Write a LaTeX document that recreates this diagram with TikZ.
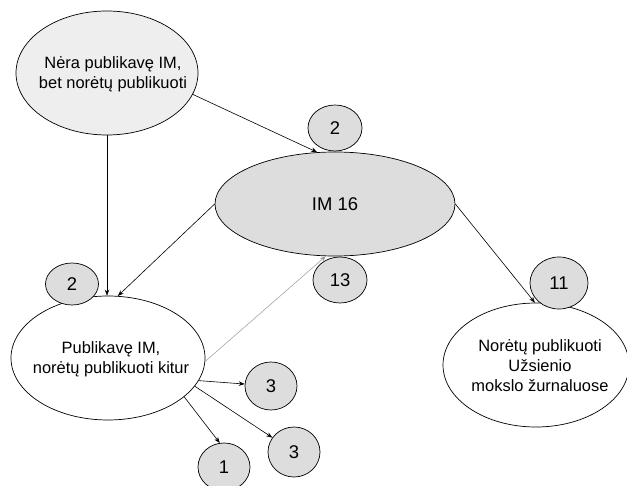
\documentclass[tikz,border=0pt]{standalone}
\usepackage{fontspec}
\setmainfont{Liberation Sans}
\usetikzlibrary{shapes.geometric,arrows.meta}
\definecolor{lightfill}{HTML}{EEEEEE}
\definecolor{midfill}{HTML}{DDDDDD}
\definecolor{numgray}{HTML}{DDDDDD}
\begin{document}
\begin{tikzpicture}[x=1bp,y=-1bp,
  ell/.style 2 args={ellipse,draw,line width=0.7bp,inner sep=0pt,
    label={[align=center,xshift=#2,yshift=-1bp,font=\fontsize{16.5}{20}\selectfont]center:#1}},
  num/.style={ellipse,draw,line width=0.7bp,fill=numgray,inner sep=0pt,font=\fontsize{18.5}{20}\selectfont},
  arr/.style={-{Stealth[length=6bp,width=4.5bp]},line width=0.6bp},
  grayarr/.style={-{Stealth[length=6bp,width=4.5bp]},line width=0.5bp,draw=gray!80}
]
\useasboundingbox (0,0) rectangle (627,486);
\node[ell={Nėra publikavę IM,\\bet norėtų publikuoti}{6bp},fill=lightfill,minimum width=182bp,minimum height=124bp] (nera) at (107,73) {};
\node[ellipse,draw,line width=0.7bp,inner sep=0pt,fill=midfill,minimum width=240bp,minimum height=104bp,font=\fontsize{18.5}{20}\selectfont] (im) at (335,204) {IM 16};
\node[ell={Publikavę IM,\\norėtų publikuoti kitur}{3bp},fill=white,minimum width=194bp,minimum height=124bp] (pub) at (108,358) {};
\node[ell={Norėtų publikuoti\\Užsienio\\mokslo žurnaluose}{4bp},fill=white,minimum width=186bp,minimum height=124bp] (nor) at (536,365) {};

\draw[arr] (nera.-14) -- (im.109);
\draw[arr] (nera.south) -- (nera.south |- pub.north);
\draw[arr] (im.west) -- (pub.81);
\draw[grayarr] (pub.-2) -- (im.-100);
\draw[arr] (im.east) -- (nor.91);

\node[num,minimum width=54bp,minimum height=46bp] (c2a) at (335,128) {2};
\node[num,minimum width=54bp,minimum height=46bp] (c13) at (340,280) {13};
\node[num,minimum width=53bp,minimum height=42bp] (c2b) at (72,284) {2};
\node[num,minimum width=58bp,minimum height=52bp] (c11) at (559,283) {11};
\node[num,minimum width=52bp,minimum height=48bp] (c3a) at (271,386) {3};
\node[num,minimum width=52bp,minimum height=50bp] (c3b) at (294,452) {3};
\node[num,minimum width=52bp,minimum height=48bp] (c1) at (224,467) {1};

\draw[arr] (pub.-14) -- (c3a);
\draw[arr] (pub.-18) -- (c3b);
\draw[arr] (pub.-27) -- (c1.100);
\end{tikzpicture}
\end{document}
